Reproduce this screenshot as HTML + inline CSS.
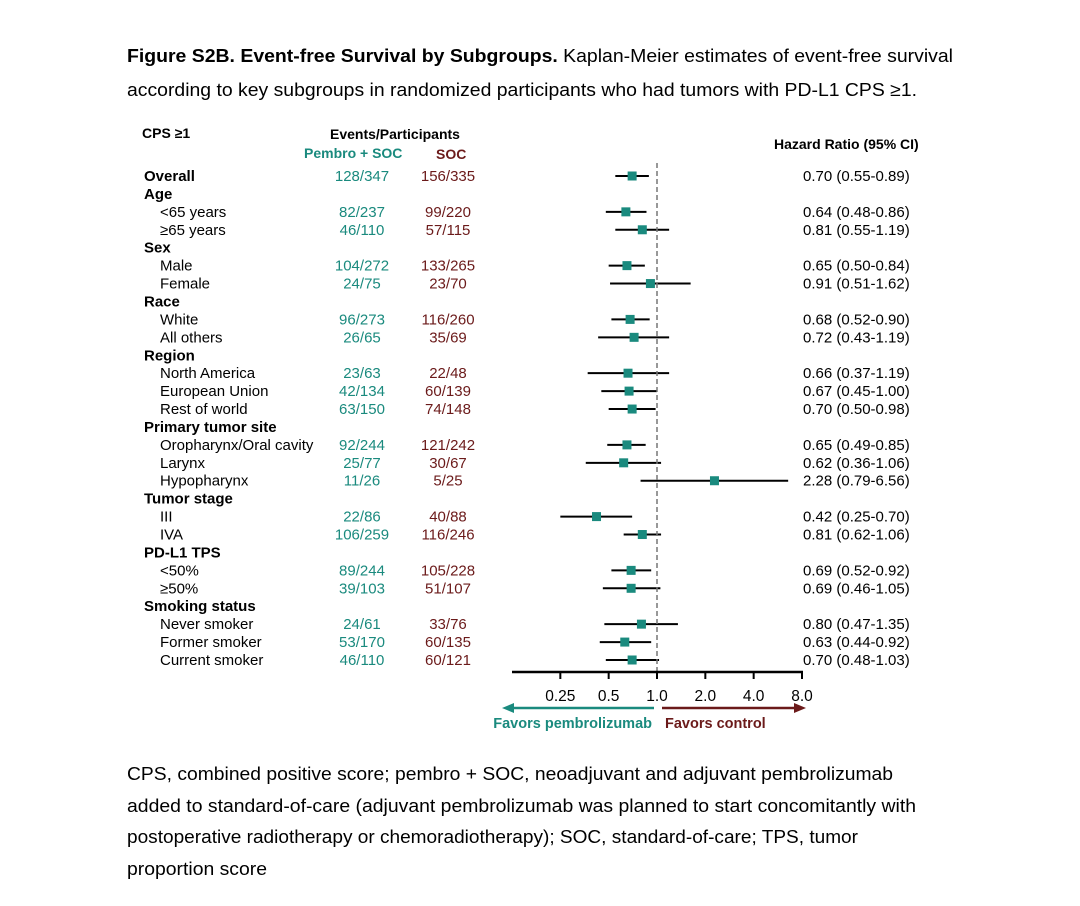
<!DOCTYPE html>
<html><head><meta charset="utf-8"><style>
body{margin:0;background:#fff;}
svg{display:block;font-family:"Liberation Sans",Arial,sans-serif;}
</style></head><body>
<svg id="chart" width="1080" height="906" viewBox="0 0 1080 906">
<g font-size="18.5" fill="#000">
<text x="127" y="62" textLength="826" lengthAdjust="spacingAndGlyphs"><tspan font-weight="bold">Figure S2B. Event-free Survival by Subgroups.</tspan> Kaplan-Meier estimates of event-free survival</text>
<text x="127" y="96" textLength="790" lengthAdjust="spacingAndGlyphs">according to key subgroups in randomized participants who had tumors with PD-L1 CPS ≥1.</text>
</g>
<g font-weight="bold" font-size="14">
<text x="142" y="138">CPS ≥1</text>
<text x="330" y="139">Events/Participants</text>
<text x="304" y="158" fill="#1a8a7e">Pembro + SOC</text>
<text x="436" y="159" fill="#6b1a1a">SOC</text>
<text x="774" y="149">Hazard Ratio (95% CI)</text>
</g>
<g id="rows"></g>
<g id="axis"></g>
<g font-size="18.5" fill="#000">
<text x="127" y="780" textLength="766" lengthAdjust="spacingAndGlyphs">CPS, combined positive score; pembro + SOC, neoadjuvant and adjuvant pembrolizumab</text>
<text x="127" y="812" textLength="789" lengthAdjust="spacingAndGlyphs">added to standard-of-care (adjuvant pembrolizumab was planned to start concomitantly with</text>
<text x="127" y="843" textLength="731" lengthAdjust="spacingAndGlyphs">postoperative radiotherapy or chemoradiotherapy); SOC, standard-of-care; TPS, tumor</text>
<text x="127" y="875" textLength="140" lengthAdjust="spacingAndGlyphs">proportion score</text>
</g>
</svg>
<script>
const labels=["Overall","Age","<65 years","≥65 years","Sex","Male","Female","Race","White","All others","Region","North America","European Union","Rest of world","Primary tumor site","Oropharynx/Oral cavity","Larynx","Hypopharynx","Tumor stage","III","IVA","PD-L1 TPS","<50%","≥50%","Smoking status","Never smoker","Former smoker","Current smoker"];
const isHeader=[1,1,0,0,1,0,0,1,0,0,1,0,0,0,1,0,0,0,1,0,0,1,0,0,1,0,0,0];
const pembro=["128/347",null,"82/237","46/110",null,"104/272","24/75",null,"96/273","26/65",null,"23/63","42/134","63/150",null,"92/244","25/77","11/26",null,"22/86","106/259",null,"89/244","39/103",null,"24/61","53/170","46/110"];
const soc=["156/335",null,"99/220","57/115",null,"133/265","23/70",null,"116/260","35/69",null,"22/48","60/139","74/148",null,"121/242","30/67","5/25",null,"40/88","116/246",null,"105/228","51/107",null,"33/76","60/135","60/121"];
const hr=[0.70,null,0.64,0.81,null,0.65,0.91,null,0.68,0.72,null,0.66,0.67,0.70,null,0.65,0.62,2.28,null,0.42,0.81,null,0.69,0.69,null,0.80,0.63,0.70];
const lo=[0.55,null,0.48,0.55,null,0.50,0.51,null,0.52,0.43,null,0.37,0.45,0.50,null,0.49,0.36,0.79,null,0.25,0.62,null,0.52,0.46,null,0.47,0.44,0.48];
const hi=[0.89,null,0.86,1.19,null,0.84,1.62,null,0.90,1.19,null,1.19,1.00,0.98,null,0.85,1.06,6.56,null,0.70,1.06,null,0.92,1.05,null,1.35,0.92,1.03];
const tickVals=[0.25,0.5,1.0,2.0,4.0,8.0];
const tickLabels=["0.25","0.5","1.0","2.0","4.0","8.0"];
const NS="http://www.w3.org/2000/svg";
const X0=512,X1=802,LMIN=Math.log2(0.125),LMAX=Math.log2(8);
function xs(v){return X0+(Math.log2(v)-LMIN)/(LMAX-LMIN)*(X1-X0);}
const Y0=176,Y1=660;
function ys(i){return Y0+i*(Y1-Y0)/(labels.length-1);}
function mk(tag,attrs,parent,txt){const e=document.createElementNS(NS,tag);for(const k in attrs)e.setAttribute(k,attrs[k]);if(txt!=null)e.textContent=txt;parent.appendChild(e);return e;}
const rows=document.getElementById('rows');
const ax=document.getElementById('axis');
const ref=mk('line',{x1:xs(1),x2:xs(1),y1:163,y2:672,stroke:'#777','stroke-width':1.5,'stroke-dasharray':'5,3'},ax);


labels.forEach((lab,i)=>{
  const y=ys(i);
  const g=mk('g',{},rows);
  
  
  const bold=isHeader[i];
  const t=mk('text',{x:bold?144:160,y:y+5,'font-size':15,'font-weight':bold?'bold':'normal'},g,lab);
  
  
  if(pembro[i]){
    const p=mk('text',{x:362,y:y+5,'font-size':15,fill:'#1a8a7e','text-anchor':'middle'},g,pembro[i]);
    
    
    const s=mk('text',{x:448,y:y+5,'font-size':15,fill:'#6b1a1a','text-anchor':'middle'},g,soc[i]);
    
    
  }
  if(hr[i]!=null){
    const l=mk('line',{x1:xs(lo[i]),x2:xs(hi[i]),y1:y,y2:y,stroke:'#000','stroke-width':2},g);
    
    
    const r=mk('rect',{x:xs(hr[i])-4.5,y:y-4.5,width:9,height:9,fill:'#1a8a7e'},g);
    
    
    const h=mk('text',{x:803,y:y+5,'font-size':15},g,hr[i].toFixed(2)+' ('+lo[i].toFixed(2)+'-'+hi[i].toFixed(2)+')');
    
    
  }
});
const axl=mk('line',{x1:X0,x2:X1+1,y1:672,y2:672,stroke:'#000','stroke-width':2.5},ax);


tickVals.forEach((v,i)=>{
  const tk=mk('line',{x1:xs(v),x2:xs(v),y1:672,y2:679,stroke:'#000','stroke-width':2},ax);
  
  
  const tl=mk('text',{x:xs(v),y:701,'font-size':15.5,'text-anchor':'middle'},ax,tickLabels[i]);
  
  
});
const a1=mk('g',{},ax);


mk('line',{x1:654,x2:512,y1:708,y2:708,stroke:'#1a8a7e','stroke-width':2.5},a1);
mk('polygon',{points:'502,708 514,703 514,713',fill:'#1a8a7e'},a1);
const a2=mk('g',{},ax);


mk('line',{x1:662,x2:796,y1:708,y2:708,stroke:'#6b1a1a','stroke-width':2.5},a2);
mk('polygon',{points:'806,708 794,703 794,713',fill:'#6b1a1a'},a2);
const f1=mk('text',{x:652,y:728,'font-size':14.5,'font-weight':'bold',fill:'#1a8a7e','text-anchor':'end'},ax,'Favors pembrolizumab');


const f2=mk('text',{x:665,y:728,'font-size':14.5,'font-weight':'bold',fill:'#6b1a1a'},ax,'Favors control');


</script>
</body></html>
